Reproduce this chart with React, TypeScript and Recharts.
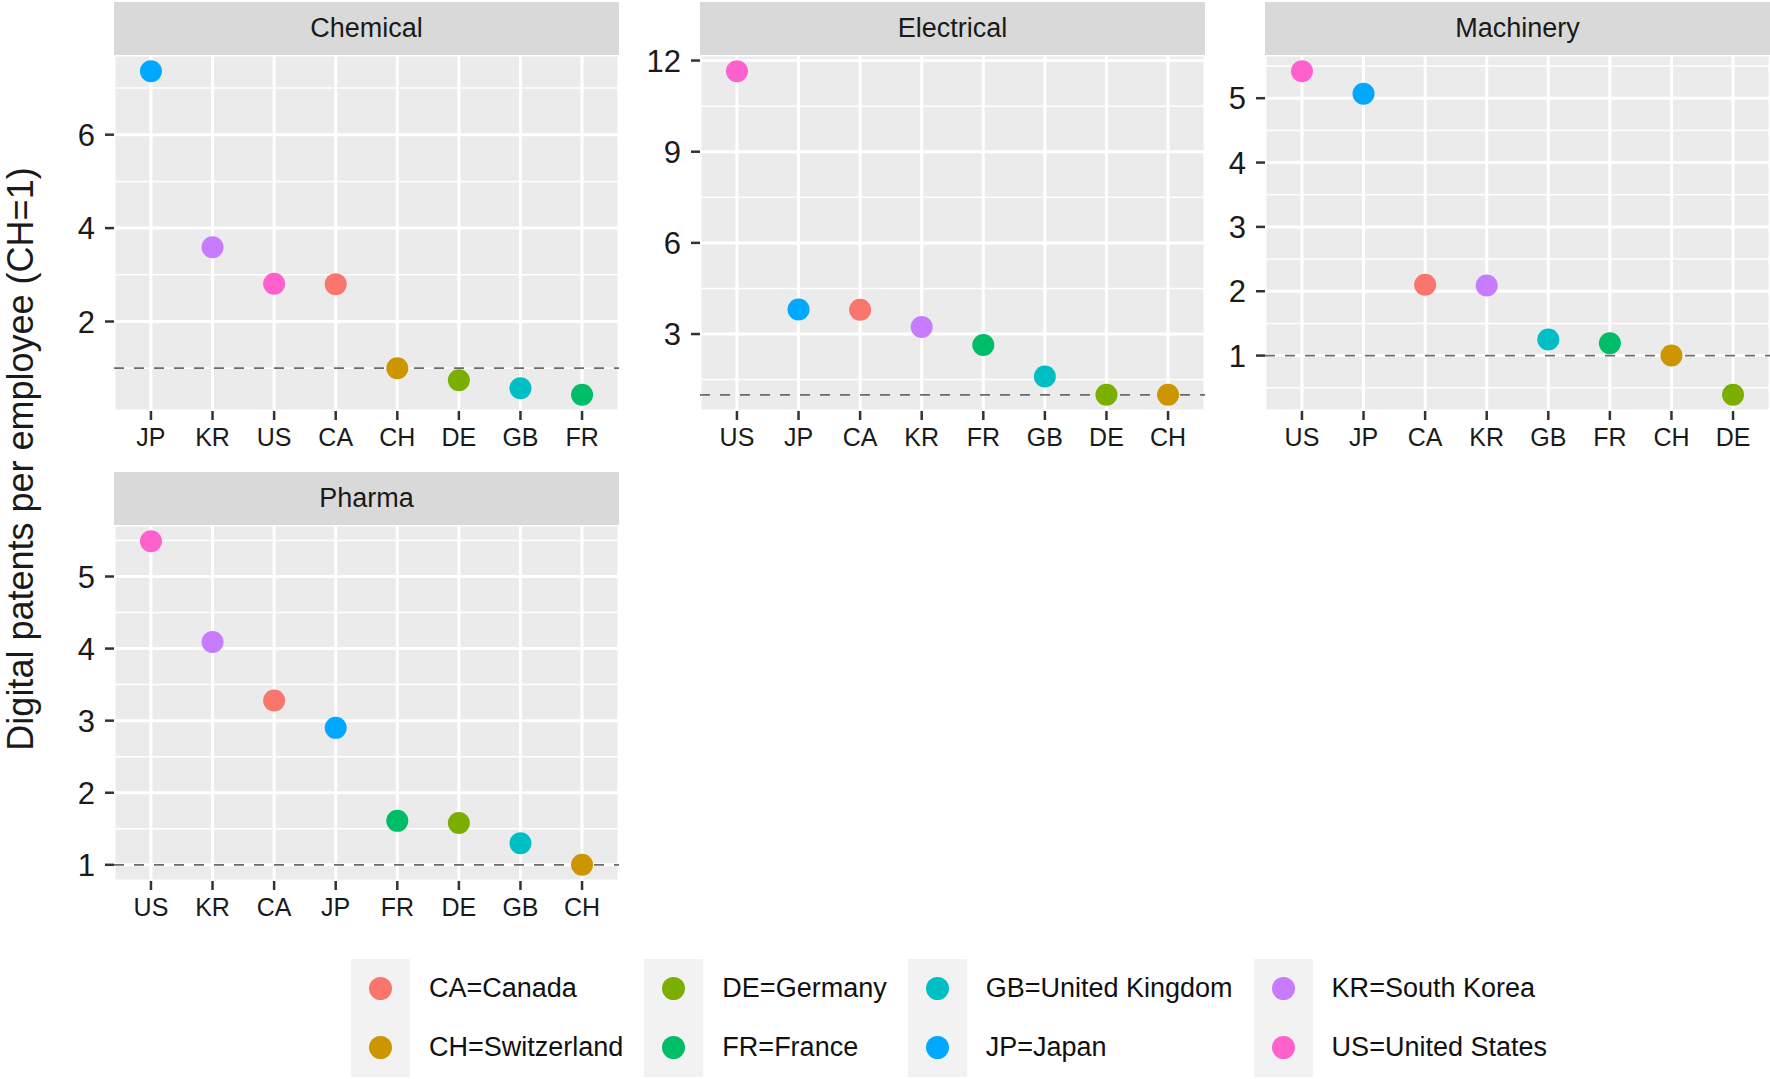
import { CartesianGrid, ReferenceLine, Scatter, ScatterChart, XAxis, YAxis } from "recharts";

// legend / colour order (ggplot hue palette)
const COUNTRY_CODES = ["CA", "CH", "DE", "FR", "GB", "JP", "KR", "US"];
const COUNTRY_NAMES = ["Canada", "Switzerland", "Germany", "France", "United Kingdom", "Japan", "South Korea", "United States"];
const COUNTRY_COLORS = ["#F8766D", "#CD9600", "#7CAE00", "#00BE67", "#00BFC4", "#00A9FF", "#C77CFF", "#FF61CC"];

const chemicalCodes = ["JP", "KR", "US", "CA", "CH", "DE", "GB", "FR"];
const chemicalValues = [7.36, 3.59, 2.81, 2.8, 1.0, 0.74, 0.57, 0.43];
const chemicalTicks = [2, 4, 6];
const chemicalMinor = [1, 3, 5, 7];

const electricalCodes = ["US", "JP", "CA", "KR", "FR", "GB", "DE", "CH"];
const electricalValues = [11.65, 3.81, 3.8, 3.23, 2.64, 1.6, 1.0, 1.0];
const electricalTicks = [3, 6, 9, 12];
const electricalMinor = [1.5, 4.5, 7.5, 10.5];

const machineryCodes = ["US", "JP", "CA", "KR", "GB", "FR", "CH", "DE"];
const machineryValues = [5.42, 5.07, 2.1, 2.09, 1.25, 1.19, 1.0, 0.39];
const machineryTicks = [1, 2, 3, 4, 5];
const machineryMinor = [0.5, 1.5, 2.5, 3.5, 4.5, 5.5];

const pharmaCodes = ["US", "KR", "CA", "JP", "FR", "DE", "GB", "CH"];
const pharmaValues = [5.49, 4.09, 3.28, 2.9, 1.61, 1.58, 1.3, 1.0];
const pharmaTicks = [1, 2, 3, 4, 5];
const pharmaMinor = [1.5, 2.5, 3.5, 4.5, 5.5];

const PLOT_W = 505;
const PLOT_H = 356;
const STRIP_H = 53;
const AXIS_W = 70;
const XAXIS_H = 50;
const TOP_PAD = 24;
const FONT = "'Liberation Sans', Arial, Helvetica, sans-serif";
const TEXT = "#1A1A1A";

const colorOf = (code: string) => COUNTRY_COLORS[COUNTRY_CODES.indexOf(code)];

const Dot = (props: any) => <circle cx={props.cx} cy={props.cy} r={11} fill={colorOf(props.payload.code)} />;

interface PanelProps {
  title: string;
  codes: string[];
  values: number[];
  ticks: number[];
  minor: number[];
  left: number;
  top: number;
}

function Panel({ title, codes, values, ticks, minor, left, top }: PanelProps) {
  const data = codes.map((code, i) => ({ x: i, code, value: values[i] }));
  const lo = Math.min(...values);
  const hi = Math.max(...values);
  const pad = (hi - lo) * 0.05; // ggplot default expansion
  const xTicks = codes.map((_, i) => i);

  return (
    <>
      <div style={{ position: "absolute", left: left - AXIS_W, top: top + STRIP_H - TOP_PAD }}>
        <ScatterChart
          width={AXIS_W + PLOT_W}
          height={TOP_PAD + PLOT_H + XAXIS_H}
          margin={{ top: TOP_PAD, right: 0, bottom: 0, left: 0 }}
        >
          <CartesianGrid fill="#EBEBEB" stroke="#FFFFFF" strokeWidth={1.5} vertical={false} horizontalValues={minor} />
          <CartesianGrid stroke="#FFFFFF" strokeWidth={3} />
          <XAxis
            type="number"
            dataKey="x"
            domain={[-0.6, codes.length - 0.4]}
            ticks={xTicks}
            tickFormatter={(i: number) => codes[i]}
            axisLine={false}
            tickLine={{ stroke: "#333333", strokeWidth: 2.5 }}
            tickSize={9}
            tickMargin={8}
            height={XAXIS_H}
            tick={{ fontSize: 25, fill: TEXT }}
            interval={0}
          />
          <YAxis
            type="number"
            dataKey="value"
            domain={[lo - pad, hi + pad]}
            allowDataOverflow
            ticks={ticks}
            axisLine={false}
            tickLine={{ stroke: "#333333", strokeWidth: 2.5 }}
            tickSize={9}
            tickMargin={10}
            width={AXIS_W}
            tick={{ fontSize: 31, fill: TEXT }}
            interval={0}
          />
          <Scatter data={data} shape={Dot} isAnimationActive={false} />
          <ReferenceLine y={1} stroke="#6B6B6B" strokeDasharray="10 10" strokeWidth={1.8} />
        </ScatterChart>
      </div>
      <div
        style={{
          position: "absolute",
          left,
          top,
          width: PLOT_W,
          height: STRIP_H,
          background: "#D9D9D9",
          display: "flex",
          alignItems: "center",
          justifyContent: "center",
          fontSize: 27,
          color: TEXT,
        }}
      >
        {title}
      </div>
    </>
  );
}

function Legend() {
  const columns = [0, 2, 4, 6].map((i) => COUNTRY_CODES.slice(i, i + 2));
  return (
    <div style={{ position: "absolute", left: 351, top: 959, display: "flex", gap: 21 }}>
      {columns.map((col, c) => (
        <div key={c} style={{ display: "flex" }}>
          <div style={{ width: 59, background: "#F2F2F2" }}>
            {col.map((code) => (
              <div key={code} style={{ height: 59, display: "flex", alignItems: "center", justifyContent: "center" }}>
                <div style={{ width: 23, height: 23, borderRadius: "50%", background: colorOf(code) }} />
              </div>
            ))}
          </div>
          <div style={{ marginLeft: 19 }}>
            {col.map((code) => (
              <div key={code} style={{ height: 59, display: "flex", alignItems: "center", fontSize: 27, color: "#111111", whiteSpace: "nowrap" }}>
                {code}={COUNTRY_NAMES[COUNTRY_CODES.indexOf(code)]}
              </div>
            ))}
          </div>
        </div>
      ))}
    </div>
  );
}

export default function App() {
  return (
    <div
      style={{
        position: "absolute",
        left: 0,
        top: 0,
        width: 1770,
        height: 1079,
        background: "#FFFFFF",
        overflow: "hidden",
        fontFamily: FONT,
      }}
    >
      <svg width={60} height={1079} style={{ position: "absolute", left: 0, top: 0 }}>
        <text transform="translate(33,459) rotate(-90)" textAnchor="middle" fontSize={36} fill={TEXT} fontFamily={FONT}>
          Digital patents per employee (CH=1)
        </text>
      </svg>
      <Panel title="Chemical" codes={chemicalCodes} values={chemicalValues} ticks={chemicalTicks} minor={chemicalMinor} left={114} top={2} />
      <Panel title="Electrical" codes={electricalCodes} values={electricalValues} ticks={electricalTicks} minor={electricalMinor} left={700} top={2} />
      <Panel title="Machinery" codes={machineryCodes} values={machineryValues} ticks={machineryTicks} minor={machineryMinor} left={1265} top={2} />
      <Panel title="Pharma" codes={pharmaCodes} values={pharmaValues} ticks={pharmaTicks} minor={pharmaMinor} left={114} top={472} />
      <Legend />
    </div>
  );
}
